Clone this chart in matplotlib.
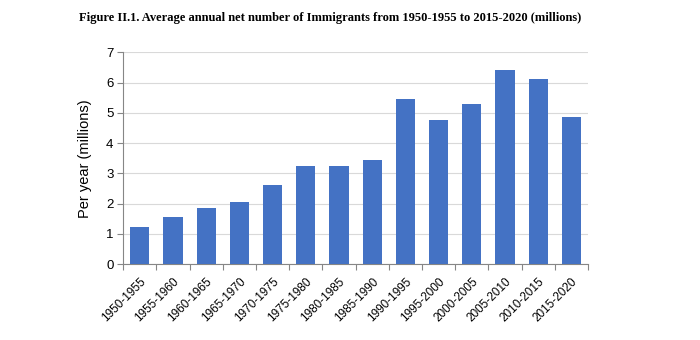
import numpy as np
import matplotlib.pyplot as plt
from matplotlib.ticker import FixedLocator

periodos = ["1950-1955", "1955-1960", "1960-1965", "1965-1970", "1970-1975",
            "1975-1980", "1980-1985", "1985-1990", "1990-1995", "1995-2000",
            "2000-2005", "2005-2010", "2010-2015", "2015-2020"]
inmigrantes = [1.22, 1.57, 1.87, 2.05, 2.63, 3.25, 3.23, 3.44, 5.47, 4.76,
               5.29, 6.42, 6.12, 4.86]
yticks = [0, 1, 2, 3, 4, 5, 6, 7]

fig = plt.figure(figsize=(7, 3.4), dpi=100)
ax = fig.add_axes([0.176, 0.223, 0.664, 0.623])

x = np.arange(len(periodos))
ax.bar(x, inmigrantes, width=0.58, color="#4472C4", zorder=3)

ax.set_xlim(-0.5, len(periodos) - 0.5)
ax.set_ylim(0, 7)
ax.set_yticks(yticks)
ax.yaxis.grid(True, color="#d9d9d9", linewidth=0.8, zorder=0)

# ticks en los limites de categoria, etiquetas en el centro
ax.xaxis.set_major_locator(FixedLocator(np.arange(len(periodos) + 1) - 0.5))
ax.xaxis.set_minor_locator(FixedLocator(x))
ax.set_xticklabels([], minor=False)
ax.set_xticklabels(periodos, minor=True, rotation=45, ha="right",
                   rotation_mode="anchor", fontsize=8.5, family="Liberation Sans")
ax.tick_params(axis="x", which="major", length=4, color="#868686", direction="out")
ax.tick_params(axis="x", which="minor", length=0, pad=8)
ax.tick_params(axis="y", length=4, color="#868686", labelsize=9.5, pad=3)
for lab in ax.get_yticklabels():
    lab.set_family("Liberation Sans")

for s in ["top", "right"]:
    ax.spines[s].set_visible(False)
ax.spines["left"].set_color("#868686")
ax.spines["bottom"].set_color("#868686")

ax.set_ylabel("Per year (millions)", fontsize=10.5, family="Liberation Sans", labelpad=10)

fig.text(0.472, 0.948, "Figure II.1. Average annual net number of Immigrants from 1950-1955 to 2015-2020 (millions)",
         ha="center", va="center", fontsize=9, fontweight="bold", family="Liberation Serif")

fig.savefig("out.png", dpi=100)
